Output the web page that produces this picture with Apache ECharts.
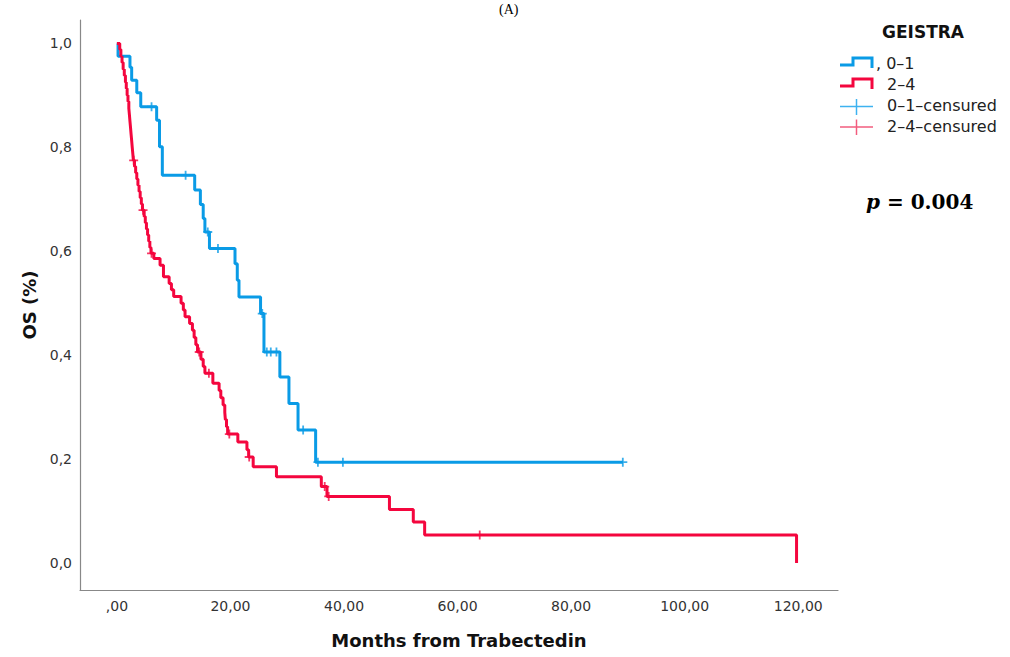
<!DOCTYPE html>
<html><head><meta charset="utf-8">
<script src="https://cdn.jsdelivr.net/npm/echarts@6/dist/echarts.min.js"></script>
<style>html,body{margin:0;padding:0;background:#fff}#c{width:1010px;height:657px}</style>
</head><body><div id="c"></div>
<script>
// ---- data ----
const xTicks = [0, 20, 40, 60, 80, 100, 120];
const yTicks = [0, 0.2, 0.4, 0.6, 0.8, 1.0];

// GEISTRA 0–1 : event times (months) and survival after each event
const blueTimes = [0, 0.2, 2.3, 2.6, 3.5, 4.2, 7.0, 7.5, 8.0, 13.7, 14.7, 15.2, 15.5, 16.3, 20.8, 21.2, 21.5, 25.3, 25.9, 28.7, 30.3, 31.9, 35.0, 89.1];
const blueSurv  = [1.0, 0.975, 0.954, 0.929, 0.905, 0.878, 0.852, 0.801, 0.746, 0.718, 0.690, 0.663, 0.637, 0.605, 0.576, 0.544, 0.512, 0.480, 0.406, 0.358, 0.307, 0.256, 0.194, 0.194];
const blueCensor = [6.1, 12.1, 16.0, 17.8, 25.6, 26.4, 27.1, 28.1, 32.8, 35.4, 39.8, 89.1];

// GEISTRA 2–4
const redTimes = [0, 0.5, 0.7, 0.9, 1.1, 1.3, 1.5, 1.65, 1.8, 1.95, 2.1, 2.2, 2.3, 2.4, 2.5, 2.6, 2.7, 2.8, 2.9,
  3.1, 3.3, 3.5, 3.7, 3.9, 4.1, 4.3, 4.5, 4.8, 5.0, 5.2, 5.4, 5.6, 5.8, 6.0, 6.5, 7.6, 8.2, 9.2, 9.6, 10.0,
  11.3, 11.7, 12.0, 12.8, 13.3, 13.6, 13.9, 14.2, 14.8, 15.2, 15.5, 16.9, 18.0, 18.3, 18.7, 19.0, 19.1, 19.3, 19.5,
  21.3, 22.9, 23.2, 24.0, 28.1, 36.0, 37.0, 48.0, 52.2, 54.2, 119.7];
const redSurv = [1.0, 0.988, 0.975, 0.963, 0.950, 0.938, 0.925, 0.913, 0.900, 0.888, 0.875, 0.863, 0.850, 0.838, 0.825, 0.813, 0.800, 0.788, 0.775,
  0.763, 0.751, 0.739, 0.727, 0.715, 0.703, 0.691, 0.679, 0.667, 0.655, 0.643, 0.631, 0.619, 0.607, 0.596, 0.586, 0.573, 0.551, 0.538, 0.526, 0.513,
  0.500, 0.487, 0.474, 0.461, 0.448, 0.434, 0.420, 0.406, 0.392, 0.378, 0.365, 0.346, 0.332, 0.318, 0.304, 0.290, 0.276, 0.262, 0.248,
  0.233, 0.218, 0.204, 0.185, 0.166, 0.147, 0.128, 0.103, 0.079, 0.054, 0.0];
const redCensor = [2.95, 4.6, 6.1, 14.5, 16.2, 19.8, 23.3, 36.6, 37.3, 63.9];

const seriesNames = ['0–1', '2–4', '0–1-censured', '2–4-censured'];

// ---- styling ----
const BLUE = '#0A9BE6', RED = '#F4063E';
const BLUE_L = '#3DB2F0', RED_L = '#F25C7E';
const PLUS = 'path://M0,4 L4,4 L4,0 L6,0 L6,4 L10,4 L10,6 L6,6 L6,10 L4,10 L4,6 L0,6 Z';

function zip(a, b) { return a.map((t, i) => [t, b[i]]); }
function levelAt(times, surv, t) {
  let v = surv[0];
  for (let i = 0; i < times.length; i++) { if (times[i] <= t) v = surv[i]; }
  return v;
}
const blueCensorPts = blueCensor.map(t => [t, levelAt(blueTimes, blueSurv, t)]);
const redCensorPts = redCensor.map(t => [t, levelAt(redTimes, redSurv, t)]);

const chart = echarts.init(document.getElementById('c'), null, { renderer: 'svg' });
const labelStyle = { fontFamily: 'DejaVu Sans', fontSize: 14, color: '#333' };
const nameStyle = { fontFamily: 'DejaVu Sans', fontWeight: 'bold', fontSize: 18, color: '#111' };

chart.setOption({
  animation: false,
  backgroundColor: '#fff',
  title: { text: '(A)', left: 494, top: -3, textStyle: { fontFamily: 'Liberation Serif', fontSize: 14, fontWeight: 'normal', color: '#000' } },
  grid: { left: 80, right: 172, top: 20, bottom: 67, containLabel: false },
  xAxis: {
    type: 'value', min: -6.5, max: 127,
    name: 'Months from Trabectedin', nameLocation: 'middle', nameGap: 41, nameTextStyle: nameStyle,
    axisLine: { onZero: false, lineStyle: { color: '#888', width: 1.2 } },
    axisTick: { show: false },
    splitLine: { show: false },
    axisLabel: Object.assign({ customValues: xTicks, margin: 9,
      formatter: v => (v === 0 ? ',00' : v + ',00') }, labelStyle)
  },
  yAxis: {
    type: 'value', min: -0.052, max: 1.045,
    name: 'OS (%)', nameLocation: 'middle', nameGap: 42, nameRotate: 90, nameTextStyle: nameStyle,
    axisLine: { show: true, onZero: false, lineStyle: { color: '#888', width: 1.2 } },
    axisTick: { show: false },
    splitLine: { show: false },
    axisLabel: Object.assign({ customValues: yTicks, margin: 8,
      formatter: v => v.toFixed(1).replace('.', ',') }, labelStyle)
  },
  series: [
    { name: seriesNames[0], type: 'line', step: 'end', data: zip(blueTimes, blueSurv), showSymbol: false,
      lineStyle: { color: BLUE, width: 3 }, itemStyle: { color: BLUE }, z: 3 },
    { name: seriesNames[1], type: 'line', step: 'end', data: zip(redTimes, redSurv), showSymbol: false,
      lineStyle: { color: RED, width: 3 }, itemStyle: { color: RED }, z: 4 },
    { name: seriesNames[2], type: 'scatter', data: blueCensorPts, symbol: PLUS, symbolSize: 9,
      itemStyle: { color: BLUE }, z: 5 },
    { name: seriesNames[3], type: 'scatter', data: redCensorPts, symbol: PLUS, symbolSize: 9,
      itemStyle: { color: RED }, z: 6 }
  ],
  graphic: [
    { type: 'text', x: 923, y: 32, style: { text: 'GEISTRA', font: 'bold 17px "DejaVu Sans"', fill: '#111', align: 'center', verticalAlign: 'middle' } },
    { type: 'polyline', shape: { points: [[840, 65], [853, 65], [853, 58], [872, 58], [872, 68]] }, style: { stroke: BLUE, lineWidth: 3, fill: null } },
    { type: 'text', x: 876, y: 63, style: { text: ', ' + seriesNames[0], font: '16px "DejaVu Sans"', fill: '#222', verticalAlign: 'middle' } },
    { type: 'polyline', shape: { points: [[840, 86], [853, 86], [853, 79], [872, 79], [872, 89]] }, style: { stroke: RED, lineWidth: 3, fill: null } },
    { type: 'text', x: 887, y: 84, style: { text: seriesNames[1], font: '16px "DejaVu Sans"', fill: '#222', verticalAlign: 'middle' } },
    { type: 'line', shape: { x1: 840, y1: 106.5, x2: 873, y2: 106.5 }, style: { stroke: BLUE_L, lineWidth: 1.5 } },
    { type: 'line', shape: { x1: 856.5, y1: 99, x2: 856.5, y2: 115 }, style: { stroke: BLUE_L, lineWidth: 1.5 } },
    { type: 'text', x: 887, y: 105, style: { text: seriesNames[2].replace(/-/g, '–'), font: '16px "DejaVu Sans"', fill: '#222', verticalAlign: 'middle' } },
    { type: 'line', shape: { x1: 840, y1: 127, x2: 873, y2: 127 }, style: { stroke: RED_L, lineWidth: 1.5 } },
    { type: 'line', shape: { x1: 856.5, y1: 119.5, x2: 856.5, y2: 135 }, style: { stroke: RED_L, lineWidth: 1.5 } },
    { type: 'text', x: 887, y: 126, style: { text: seriesNames[3].replace(/-/g, '–'), font: '16px "DejaVu Sans"', fill: '#222', verticalAlign: 'middle' } },
    { type: 'text', x: 866, y: 202, style: {
        text: '{i|p}{b| = 0.004}', verticalAlign: 'middle',
        rich: {
          i: { fontFamily: 'DejaVu Serif', fontStyle: 'italic', fontWeight: 'bold', fontSize: 20, fill: '#000' },
          b: { fontFamily: 'DejaVu Serif', fontWeight: 'bold', fontSize: 20, fill: '#000' }
        } } }
  ]
});
</script>
</body></html>
